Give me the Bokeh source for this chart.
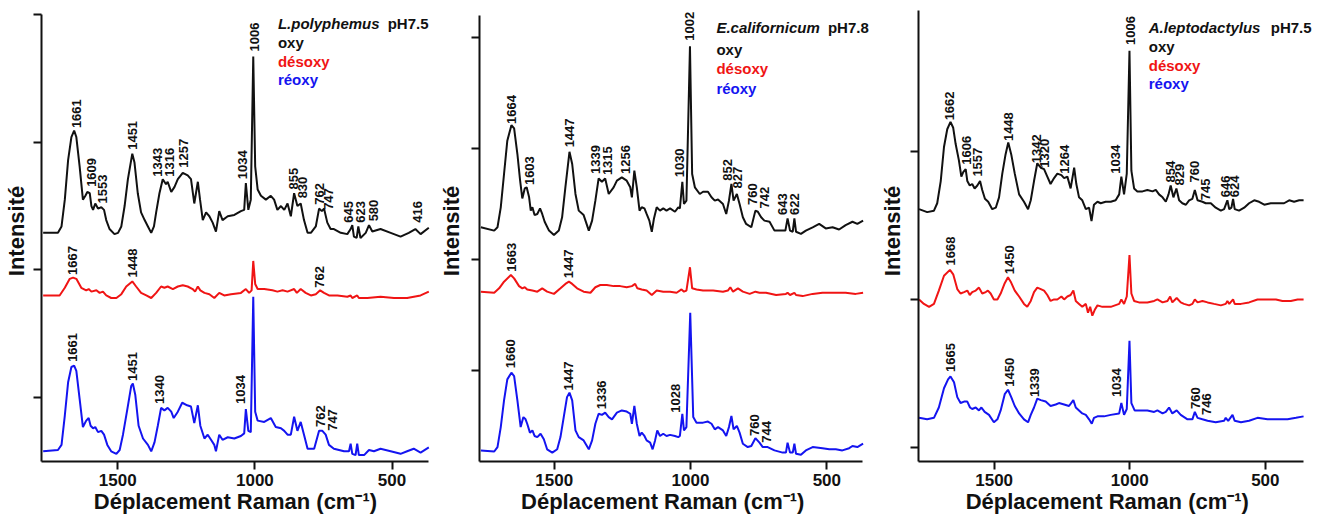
import numpy as np
from bokeh.plotting import figure
from bokeh.models import Range1d, FixedTicker, Label
from bokeh.layouts import row
from bokeh.embed import file_html
from bokeh.resources import INLINE
from bokeh.core.properties import value

FONT = "Liberation Sans"
BLACK = "#111111"
RED = "#f01414"
BLUE = "#1414f0"

X_TICKS = [1500, 1000, 500]
X_LABEL = "Déplacement Raman (cm⁻¹)"
Y_LABEL = "Intensité"
STATES = ["oxy", "désoxy", "réoxy"]

# ---------------- Panel 1 : L.polyphemus pH7.5 ----------------
P1_OXY_X = [1772,1718,1705,1693,1681,1669,1659,1651,1639,1627,1618,1611,1602,1596,1590,1582,1572,1560,1550,1542,
            1530,1512,1499,1487,1475,1463,1447,1439,1427,1415,1402,1390,1378,1368,1360,1348,1336,1324,1318,1305,
            1293,1281,1263,1245,1233,1221,1208,1200,1190,1178,1166,1154,1142,1130,1118,1099,1075,1051,1039,1033,
            1024,1015,1006,999,990,978,960,942,930,918,905,893,881,869,857,845,833,821,808,796,
            778,766,756,748,736,724,712,687,663,651,645,639,629,623,615,596,584,572,542,505,469,439,415,396,366]
P1_OXY_Y = [2.29,2.29,2.34,2.55,2.86,3.04,3.09,3.04,2.81,2.55,2.58,2.61,2.60,2.50,2.47,2.52,2.48,2.49,2.47,2.39,
            2.32,2.28,2.29,2.34,2.50,2.71,2.91,2.84,2.60,2.45,2.39,2.34,2.29,2.34,2.45,2.60,2.71,2.67,2.69,2.61,
            2.65,2.71,2.76,2.74,2.71,2.52,2.69,2.55,2.39,2.45,2.42,2.37,2.30,2.46,2.39,2.42,2.43,2.46,2.47,2.68,
            2.47,2.55,3.67,2.81,2.63,2.58,2.55,2.58,2.55,2.47,2.50,2.47,2.52,2.42,2.60,2.50,2.52,2.39,2.29,2.29,
            2.34,2.48,2.46,2.48,2.37,2.32,2.32,2.29,2.28,2.32,2.35,2.26,2.25,2.34,2.25,2.29,2.35,2.30,2.32,2.29,
            2.26,2.29,2.32,2.28,2.33]
P1_DEOXY_X = [1772,1712,1693,1675,1663,1651,1633,1615,1606,1596,1578,1566,1554,1542,1524,1505,1487,1469,1447,1433,
              1415,1396,1378,1360,1342,1330,1318,1299,1281,1263,1245,1227,1218,1208,1199,1184,1166,1148,1130,1112,
              1087,1051,1033,1021,1012,1006,999,990,966,936,918,899,881,857,847,833,815,796,778,762,
              748,730,699,663,651,645,627,621,590,542,493,445,396,366]
P1_DEOXY_Y = [1.80,1.80,1.86,1.93,1.94,1.93,1.86,1.84,1.85,1.83,1.84,1.82,1.83,1.80,1.78,1.78,1.81,1.87,1.91,1.87,
              1.82,1.80,1.78,1.82,1.87,1.86,1.87,1.85,1.87,1.88,1.87,1.85,1.83,1.87,1.84,1.82,1.81,1.78,1.82,1.80,
              1.81,1.82,1.85,1.82,1.84,2.07,1.89,1.85,1.85,1.84,1.83,1.84,1.83,1.85,1.82,1.85,1.82,1.80,1.81,1.84,
              1.82,1.80,1.80,1.79,1.80,1.78,1.80,1.78,1.78,1.79,1.78,1.78,1.80,1.83]
P1_REOXY_X = [1772,1718,1705,1693,1681,1669,1659,1651,1639,1627,1615,1606,1599,1590,1582,1572,1560,1550,1538,1524,
              1505,1493,1481,1465,1451,1445,1436,1424,1408,1390,1378,1366,1354,1342,1330,1318,1305,1296,1281,1265,
              1247,1233,1221,1208,1199,1184,1172,1160,1148,1142,1130,1118,1099,1075,1051,1039,1033,1024,1015,1006,
              999,990,966,942,924,905,893,881,869,857,845,833,821,808,784,766,754,742,730,712,
              675,657,651,645,633,627,621,602,584,566,542,505,469,445,421,396,366]
P1_REOXY_Y = [0.58,0.59,0.63,0.86,1.12,1.24,1.25,1.21,0.99,0.77,0.82,0.84,0.78,0.76,0.77,0.73,0.74,0.71,0.63,0.58,
              0.56,0.59,0.71,0.91,1.09,1.11,1.02,0.78,0.68,0.63,0.58,0.65,0.78,0.92,0.90,0.92,0.89,0.84,0.89,0.96,
              0.94,0.93,0.80,0.94,0.78,0.68,0.71,0.67,0.63,0.58,0.71,0.67,0.69,0.68,0.70,0.72,0.91,0.74,0.73,1.79,
              0.89,0.82,0.81,0.84,0.77,0.76,0.74,0.71,0.71,0.85,0.74,0.81,0.71,0.60,0.60,0.74,0.74,0.71,0.63,0.60,
              0.58,0.58,0.64,0.56,0.55,0.64,0.55,0.55,0.59,0.58,0.60,0.58,0.56,0.58,0.60,0.57,0.61]
P1_PEAK_TEXT = ["1661","1609","1553","1451","1343","1316","1257","1034","1006","855","830","762","747","645","623","580","416",
                "1667","1448","762",
                "1661","1451","1340","1034","762","747"]
P1_PEAK_X = [1650,1594,1554,1447,1356,1312,1259,1047,1000,859,827,766,733,657,615,566,408,
             1665,1447,766,
             1665,1447,1348,1053,762,718]
P1_PEAK_Y = [3.11,2.65,2.52,2.94,2.73,2.73,2.80,2.71,3.71,2.63,2.56,2.51,2.47,2.37,2.37,2.38,2.37,
             1.96,1.94,1.86,
             1.28,1.13,0.95,0.95,0.77,0.74]

# ---------------- Panel 2 : E.californicum pH7.8 ----------------
P2_OXY_X = [1769,1720,1708,1696,1684,1672,1657,1647,1635,1625,1617,1608,1601,1592,1586,1580,1572,1562,1552,1544,
            1535,1519,1501,1483,1471,1459,1444,1434,1422,1410,1392,1373,1361,1349,1337,1325,1313,1300,1282,1270,
            1252,1234,1221,1215,1206,1197,1187,1179,1169,1161,1151,1142,1134,1124,1112,1100,1088,1075,1057,1045,
            1039,1030,1024,1015,1002,994,984,966,954,936,923,911,899,881,869,859,850,842,830,820,
            808,796,777,762,753,741,729,710,692,674,652,644,635,625,619,613,595,577,552,528,
            504,479,455,431,406,388,367]
P2_OXY_Y = [2.29,2.26,2.29,2.47,2.77,3.07,3.21,3.18,2.95,2.71,2.55,2.64,2.65,2.56,2.44,2.47,2.40,2.41,2.46,2.41,
            2.34,2.26,2.22,2.26,2.38,2.65,2.97,2.86,2.59,2.44,2.40,2.26,2.35,2.53,2.73,2.70,2.73,2.59,2.65,2.71,
            2.74,2.71,2.65,2.56,2.80,2.65,2.44,2.47,2.46,2.41,2.35,2.25,2.37,2.47,2.44,2.46,2.44,2.46,2.43,2.47,
            2.46,2.70,2.50,2.53,3.92,2.77,2.65,2.59,2.61,2.61,2.56,2.53,2.54,2.50,2.41,2.53,2.68,2.53,2.59,2.50,
            2.38,2.32,2.29,2.44,2.43,2.38,2.35,2.34,2.26,2.26,2.26,2.37,2.26,2.25,2.37,2.25,2.23,2.26,2.29,2.32,
            2.28,2.29,2.27,2.31,2.34,2.32,2.35]
P2_DEOXY_X = [1769,1720,1702,1684,1659,1647,1629,1617,1608,1599,1580,1562,1544,1526,1501,1477,1459,1446,1434,1416,
              1392,1367,1349,1331,1307,1282,1258,1234,1215,1203,1195,1179,1161,1142,1124,1100,1075,1051,1033,1024,
              1015,1002,994,978,954,917,881,863,854,844,826,808,783,762,747,723,686,650,644,635,
              619,613,589,552,516,479,431,394,367]
P2_DEOXY_Y = [1.71,1.70,1.74,1.80,1.86,1.83,1.76,1.74,1.75,1.73,1.72,1.71,1.74,1.71,1.69,1.74,1.78,1.80,1.78,1.74,
              1.71,1.70,1.75,1.77,1.77,1.76,1.76,1.75,1.76,1.78,1.74,1.73,1.72,1.68,1.72,1.71,1.71,1.70,1.73,1.71,
              1.72,1.93,1.74,1.73,1.72,1.72,1.71,1.72,1.75,1.71,1.74,1.71,1.69,1.71,1.70,1.70,1.68,1.69,1.70,1.68,
              1.70,1.68,1.67,1.69,1.70,1.70,1.70,1.69,1.70]
P2_REOXY_X = [1769,1720,1708,1696,1684,1672,1657,1647,1635,1623,1613,1605,1599,1589,1580,1572,1562,1550,1538,1526,
              1507,1489,1477,1465,1453,1444,1434,1422,1410,1392,1373,1361,1349,1337,1325,1313,1300,1288,1270,1252,
              1234,1221,1215,1206,1197,1187,1179,1169,1161,1148,1139,1130,1122,1112,1100,1088,1075,1057,1045,1039,
              1030,1024,1015,1001,990,978,954,936,923,911,899,881,869,859,850,842,830,820,808,790,
              777,762,747,735,717,692,662,650,644,635,625,619,613,595,577,552,516,491,467,443,
              418,406,388,367]
P2_REOXY_Y = [0.28,0.27,0.31,0.49,0.73,0.92,0.98,0.95,0.73,0.49,0.58,0.56,0.52,0.44,0.46,0.41,0.40,0.43,0.38,0.29,
              0.26,0.29,0.40,0.58,0.76,0.80,0.73,0.46,0.40,0.37,0.29,0.37,0.52,0.61,0.60,0.62,0.58,0.56,0.62,0.64,
              0.63,0.61,0.52,0.68,0.52,0.41,0.44,0.41,0.37,0.35,0.29,0.37,0.46,0.41,0.43,0.41,0.42,0.41,0.40,0.41,
              0.61,0.46,0.49,1.52,0.58,0.53,0.53,0.54,0.52,0.47,0.49,0.46,0.41,0.49,0.59,0.47,0.50,0.44,0.34,0.31,
              0.32,0.39,0.35,0.31,0.31,0.28,0.26,0.26,0.35,0.26,0.26,0.34,0.25,0.24,0.28,0.31,0.30,0.29,0.29,0.28,
              0.30,0.32,0.31,0.34]
P2_PEAK_TEXT = ["1664","1603","1447","1339","1315","1256","1030","1002","852","827","760","742","643","622",
                "1663","1447",
                "1660","1447","1336","1028","760","744"]
P2_PEAK_X = [1657,1592,1444,1349,1303,1240,1039,1002,865,826,771,729,662,619,
             1657,1446,
             1659,1446,1328,1054,765,723]
P2_PEAK_Y = [3.22,2.67,3.01,2.77,2.76,2.77,2.74,3.97,2.71,2.64,2.49,2.46,2.40,2.40,
             1.89,1.83,
             1.02,0.82,0.65,0.62,0.41,0.35]

# ---------------- Panel 3 : A.leptodactylus pH7.5 ----------------
P3_OXY_X = [1777,1747,1722,1710,1697,1685,1673,1661,1651,1642,1630,1621,1614,1605,1599,1590,1581,1572,1562,1552,
            1544,1534,1522,1507,1494,1482,1470,1458,1448,1437,1424,1408,1390,1375,1365,1353,1341,1328,1316,1304,
            1292,1279,1267,1252,1242,1230,1218,1205,1197,1187,1175,1162,1150,1141,1132,1119,1107,1089,1070,1052,
            1039,1031,1021,1011,1001,994,984,972,953,935,916,904,892,879,867,857,849,839,828,818,
            806,793,781,769,760,750,732,720,701,683,664,652,640,633,625,619,613,597,578,560,
            541,523,504,480,455,431,412,394,375,359]
P3_OXY_Y = [2.61,2.59,2.60,2.65,2.80,3.03,3.15,3.20,3.16,3.05,2.94,2.83,2.86,2.88,2.80,2.77,2.78,2.75,2.77,2.80,
            2.74,2.68,2.66,2.61,2.62,2.69,2.85,2.98,3.06,2.98,2.85,2.71,2.66,2.61,2.67,2.80,2.92,2.89,2.88,2.83,
            2.78,2.82,2.85,2.84,2.82,2.83,2.75,2.89,2.78,2.69,2.67,2.61,2.62,2.53,2.64,2.66,2.65,2.66,2.66,2.67,
            2.71,2.83,2.71,2.85,3.68,2.87,2.75,2.73,2.73,2.74,2.73,2.74,2.71,2.69,2.66,2.71,2.77,2.69,2.75,2.67,
            2.65,2.64,2.67,2.68,2.74,2.67,2.66,2.65,2.65,2.62,2.60,2.61,2.67,2.61,2.62,2.68,2.61,2.60,2.62,2.65,
            2.67,2.66,2.64,2.65,2.65,2.65,2.67,2.66,2.67,2.67]
P3_DEOXY_X = [1777,1759,1740,1722,1704,1685,1663,1651,1636,1624,1611,1599,1590,1581,1568,1556,1544,1531,1523,1513,
              1501,1488,1476,1461,1449,1439,1424,1408,1390,1378,1365,1353,1341,1328,1316,1304,1292,1279,1267,1252,
              1242,1230,1218,1208,1199,1187,1175,1162,1154,1146,1138,1129,1119,1101,1070,1039,1031,1021,1011,1001,
              994,984,966,935,910,898,879,861,851,843,827,812,800,781,769,760,750,732,713,689,
              664,646,640,633,619,613,590,560,529,492,461,437,406,381,359]
P3_DEOXY_Y = [2.00,1.97,1.95,1.97,2.06,2.16,2.20,2.17,2.07,2.04,2.05,2.06,2.03,2.05,2.06,2.08,2.04,2.05,2.06,2.04,
              2.00,2.00,2.04,2.11,2.15,2.12,2.06,2.02,1.97,1.95,1.99,2.05,2.08,2.07,2.06,2.03,1.99,2.00,2.00,2.02,
              2.00,2.02,2.03,2.06,1.99,1.97,1.95,1.97,1.91,1.95,1.89,1.93,1.96,1.95,1.95,1.97,2.00,1.97,2.02,2.30,
              2.04,1.99,1.98,1.98,1.99,2.00,1.98,1.99,2.02,1.98,2.01,1.98,1.97,1.96,1.97,2.00,1.98,1.99,1.98,1.97,
              1.96,1.97,1.99,1.97,2.00,1.97,1.97,1.98,2.00,2.00,2.00,1.99,1.99,2.00,2.00]
P3_REOXY_X = [1777,1747,1722,1704,1685,1670,1661,1648,1636,1624,1611,1599,1589,1581,1568,1556,1547,1535,1519,1501,
              1488,1476,1461,1449,1437,1424,1408,1390,1375,1365,1353,1341,1328,1310,1292,1273,1261,1242,1224,1208,
              1199,1187,1175,1162,1150,1140,1132,1119,1095,1070,1039,1031,1021,1011,1001,994,982,959,935,910,
              898,879,867,855,843,827,812,787,769,760,750,732,713,683,652,646,637,621,613,590,
              560,529,492,455,418,387,359]
P3_REOXY_Y = [1.20,1.19,1.20,1.27,1.40,1.46,1.48,1.44,1.34,1.30,1.31,1.31,1.27,1.26,1.27,1.25,1.27,1.24,1.22,1.17,
              1.19,1.25,1.36,1.39,1.34,1.28,1.23,1.19,1.17,1.22,1.27,1.33,1.32,1.31,1.28,1.29,1.30,1.29,1.28,1.32,
              1.27,1.25,1.23,1.22,1.19,1.16,1.20,1.21,1.21,1.22,1.23,1.30,1.22,1.26,1.72,1.30,1.25,1.25,1.25,1.24,
              1.25,1.23,1.24,1.27,1.23,1.25,1.22,1.19,1.19,1.24,1.20,1.19,1.18,1.17,1.18,1.20,1.18,1.22,1.18,1.17,
              1.18,1.20,1.19,1.19,1.19,1.20,1.21]
P3_PEAK_TEXT = ["1662","1606","1557","1448","1342","1320","1264","1034","1006","854","829","760","745","646","624",
                "1668","1450",
                "1665","1450","1339","1034","760","746"]
P3_PEAK_X = [1663,1601,1560,1448,1343,1316,1242,1052,999,851,818,760,720,646,615,
             1661,1445,
             1661,1445,1351,1048,756,716]
P3_PEAK_Y = [3.21,2.91,2.83,3.07,2.92,2.89,2.85,2.85,3.72,2.79,2.77,2.79,2.67,2.69,2.69,
             2.23,2.17,
             1.51,1.41,1.34,1.34,1.26,1.22]

NBSP = "\u00a0"


def make_panel(width, borders, xr, xbounds, yr, ybounds, yticks, traces, peaks,
               species, ph, title_x, ph_x, text_ys, xlabel_pad, ylabel_standoff):
    bl, br, bt, bb = borders
    p = figure(width=width, height=521, x_range=Range1d(*xr), y_range=Range1d(*yr),
               output_backend="svg", toolbar_location=None, title=None,
               min_border_left=bl, min_border_right=br, min_border_top=bt, min_border_bottom=bb)
    p.outline_line_color = None
    p.xgrid.visible = False
    p.ygrid.visible = False
    p.background_fill_color = "white"
    p.border_fill_color = "white"

    for xs, ys, col in traces:
        p.line(xs, ys, line_color=col, line_width=2)

    ptext, px, py = peaks
    p.text(x=px, y=py, text=ptext, angle=np.pi / 2, text_align="left", text_baseline="middle",
           text_font=value(FONT), text_font_size="13px", text_font_style="bold", text_color=BLACK)

    xa = p.xaxis[0]
    xa.bounds = xbounds
    xa.ticker = FixedTicker(ticks=X_TICKS)
    xa.axis_label = X_LABEL + NBSP * xlabel_pad
    xa.axis_label_text_font = FONT
    xa.axis_label_text_font_size = "22px"
    xa.axis_label_text_font_style = "bold"
    xa.axis_label_text_color = BLACK
    xa.axis_label_standoff = 0
    xa.major_label_text_font = FONT
    xa.major_label_text_font_size = "17px"
    xa.major_label_text_font_style = "bold"
    xa.major_label_text_color = BLACK
    xa.major_label_standoff = 4
    xa.major_tick_in = 0
    xa.major_tick_out = 8
    xa.minor_tick_in = 0
    xa.minor_tick_out = 0
    xa.axis_line_width = 2
    xa.major_tick_line_width = 2
    xa.axis_line_color = BLACK
    xa.major_tick_line_color = BLACK

    ya = p.yaxis[0]
    ya.bounds = ybounds
    ya.ticker = FixedTicker(ticks=yticks)
    ya.major_label_overrides = {t: "" for t in yticks}
    ya.major_label_standoff = 0
    ya.axis_label = Y_LABEL
    ya.axis_label_text_font = FONT
    ya.axis_label_text_font_size = "22px"
    ya.axis_label_text_font_style = "bold"
    ya.axis_label_text_color = BLACK
    ya.axis_label_standoff = ylabel_standoff
    ya.major_tick_in = 0
    ya.major_tick_out = 8
    ya.minor_tick_in = 0
    ya.minor_tick_out = 0
    ya.axis_line_width = 2
    ya.major_tick_line_width = 2
    ya.axis_line_color = BLACK
    ya.major_tick_line_color = BLACK

    common = dict(text_font=FONT, text_font_size="15px", text_baseline="middle", text_align="left")
    p.add_layout(Label(x=title_x, y=text_ys[0], text=species, text_font_style="bold italic",
                       text_color=BLACK, **common))
    p.add_layout(Label(x=ph_x, y=text_ys[0], text=ph, text_font_style="bold", text_color=BLACK, **common))
    for s, yv, col in zip(STATES, text_ys[1:], [BLACK, RED, BLUE]):
        p.add_layout(Label(x=title_x, y=yv, text=s, text_font_style="bold", text_color=col, **common))
    return p


p1 = make_panel(435, (40, 0, 0, 58), (1778, 341.6), (367, 1778), (0.5, 4.109), (0.5, 4.0), [1, 2, 3, 4],
                [(P1_OXY_X, P1_OXY_Y, BLACK), (P1_DEOXY_X, P1_DEOXY_Y, RED), (P1_REOXY_X, P1_REOXY_Y, BLUE)],
                (P1_PEAK_TEXT, P1_PEAK_X, P1_PEAK_Y), "L.polyphemus", "pH7.5", 916, 516,
                [3.93, 3.78, 3.63, 3.49], 1, 5)
p2 = make_panel(441, (42, 0, 0, 60), (1774, 317.8), (369, 1774), (0.18, 4.333), (0.18, 4.2), [1, 2, 3, 4],
                [(P2_OXY_X, P2_OXY_Y, BLACK), (P2_DEOXY_X, P2_DEOXY_Y, RED), (P2_REOXY_X, P2_REOXY_Y, BLUE)],
                (P2_PEAK_TEXT, P2_PEAK_X, P2_PEAK_Y), "E.californicum", "pH7.8", 905, 496,
                [4.09, 3.89, 3.72, 3.54], 5, 8)
p3 = make_panel(460, (42, 16, 0, 60), (1779, 296.6), (358, 1779), (0.905, 4.02), (0.905, 3.95), [1, 2, 3],
                [(P3_OXY_X, P3_OXY_Y, BLACK), (P3_DEOXY_X, P3_DEOXY_Y, RED), (P3_REOXY_X, P3_REOXY_Y, BLUE)],
                (P3_PEAK_TEXT, P3_PEAK_X, P3_PEAK_Y), "A.leptodactylus", "pH7.5", 930, 480,
                [3.84, 3.71, 3.58, 3.46], 4, 6)

layout = row(p1, p2, p3)
open("out.html", "w").write(file_html(layout, INLINE))
